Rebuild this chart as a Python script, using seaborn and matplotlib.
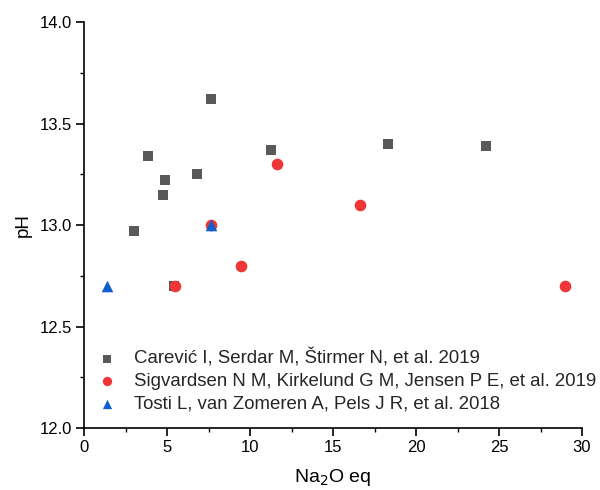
import matplotlib
matplotlib.use("Agg")
import matplotlib.pyplot as plt
import seaborn as sns
import pandas as pd
from matplotlib.ticker import MultipleLocator, FormatStrFormatter

sns.set_style("ticks")
plt.rcParams["font.family"] = ["Liberation Sans", "DejaVu Sans"]

# Na2O eq vs pH for three studies
carevic_x = [3.0, 3.85, 4.85, 4.75, 6.8, 7.65, 11.25, 5.4, 18.3, 24.2]
carevic_y = [12.97, 13.34, 13.22, 13.15, 13.25, 13.62, 13.37, 12.70, 13.40, 13.39]
sigvardsen_x = [5.5, 11.6, 9.45, 16.6, 29.0, 7.65]
sigvardsen_y = [12.70, 13.30, 12.80, 13.10, 12.70, 13.00]
tosti_x = [1.4, 7.65]
tosti_y = [12.70, 13.00]

labels = [
    "Carević I, Serdar M, Štirmer N, et al. 2019",
    "Sigvardsen N M, Kirkelund G M, Jensen P E, et al. 2019",
    "Tosti L, van Zomeren A, Pels J R, et al. 2018",
]

df = pd.concat([
    pd.DataFrame({"x": carevic_x, "y": carevic_y, "src": labels[0]}),
    pd.DataFrame({"x": sigvardsen_x, "y": sigvardsen_y, "src": labels[1]}),
    pd.DataFrame({"x": tosti_x, "y": tosti_y, "src": labels[2]}),
], ignore_index=True)

palette = {labels[0]: "#595959", labels[1]: "#ef3535", labels[2]: "#0d5fcc"}
markers = {labels[0]: "s", labels[1]: "o", labels[2]: "^"}
sizes = {labels[0]: 55, labels[1]: 70, labels[2]: 70}

fig = plt.figure(figsize=(6.0, 4.9), dpi=100)
ax = fig.add_axes([0.14, 0.1265, 0.83, 0.8285])

for lab in labels:
    sub = df[df["src"] == lab]
    sns.scatterplot(data=sub, x="x", y="y", color=palette[lab], marker=markers[lab],
                    s=sizes[lab], linewidth=0, ax=ax, label=lab, zorder=3)

ax.set_xlim(0, 30)
ax.set_ylim(12.0, 14.0)
ax.xaxis.set_major_locator(MultipleLocator(5))
ax.xaxis.set_minor_locator(MultipleLocator(2.5))
ax.yaxis.set_major_locator(MultipleLocator(0.5))
ax.yaxis.set_minor_locator(MultipleLocator(0.25))
ax.yaxis.set_major_formatter(FormatStrFormatter("%.1f"))

for sp in ["top", "right"]:
    ax.spines[sp].set_visible(False)
for sp in ["left", "bottom"]:
    ax.spines[sp].set_color("black")
    ax.spines[sp].set_linewidth(1.2)

ax.tick_params(which="major", direction="out", length=5.5, width=1.2, color="black",
               labelsize=12, labelcolor="black", pad=3)
ax.tick_params(which="minor", direction="out", length=3, width=1.0, color="black")

ax.set_xlabel("Na$_2$O eq", fontsize=14, color="black", labelpad=9)
ax.set_ylabel("pH", fontsize=13.5, color="black", labelpad=6)

ax.legend(loc="lower left", bbox_to_anchor=(0.013, 0.02), frameon=False,
          fontsize=13.4, handletextpad=0.95, labelspacing=0.28, borderaxespad=0,
          handlelength=1.0, markerscale=0.8)

fig.savefig("out.png", dpi=100)
